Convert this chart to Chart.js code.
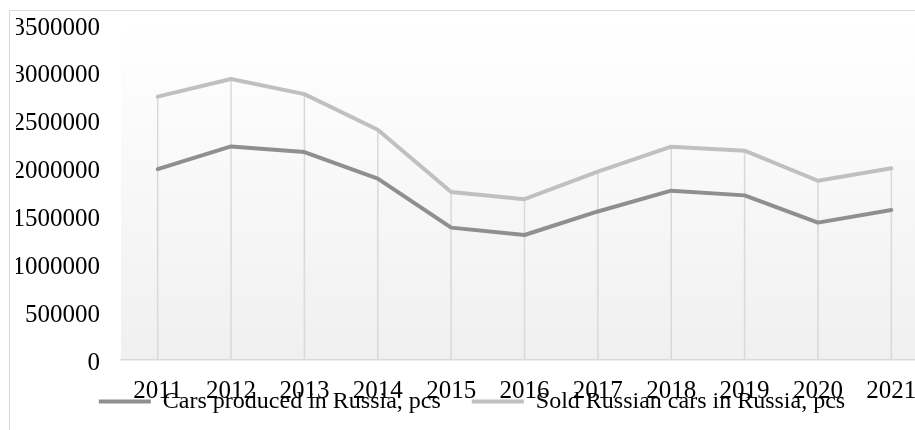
<!DOCTYPE html>
<html>
<head>
<meta charset="utf-8">
<script src="https://cdn.jsdelivr.net/npm/chart.js@4.4.0/dist/chart.umd.min.js"></script>
<style>
  html, body { margin: 0; padding: 0; background: #ffffff; width: 915px; height: 430px; overflow: hidden; }
  #frame { position: absolute; left: 9px; top: 10px; width: 960px; height: 480px; border-left: 1px solid #d9d9d9; border-top: 1px solid #d9d9d9; }
  #wrap { position: absolute; left: 10px; top: 10px; width: 925px; height: 462px; }
</style>
</head>
<body>
<div id="frame"></div>
<div id="wrap"><canvas id="c" width="925" height="462"></canvas></div>
<script>
const years = ['2011','2012','2013','2014','2015','2016','2017','2018','2019','2020','2021'];
const producedLabel = 'Cars produced in Russia, pcs';
const soldLabel = 'Sold Russian cars in Russia, pcs';
const produced = [1995000, 2231000, 2172000, 1895000, 1383000, 1306000, 1552000, 1769000, 1720000, 1435000, 1567000];
const sold = [2752000, 2936000, 2778000, 2405000, 1755000, 1680000, 1967000, 2229000, 2187000, 1873000, 2003000];
const yMin = 0, yMax = 3500000, yStep = 500000;

const serif = '"Liberation Serif", "Times New Roman", serif';

const bgPlugin = {
  id: 'plotBg',
  beforeDraw(chart) {
    const {ctx, chartArea: a} = chart;
    const g = ctx.createLinearGradient(0, a.top, 0, a.bottom);
    g.addColorStop(0, '#ffffff');
    g.addColorStop(1, '#f0f0f0');
    ctx.save();
    ctx.fillStyle = g;
    ctx.fillRect(a.left, a.top, a.right - a.left, a.bottom - a.top);
    ctx.restore();
  }
};

const dropLines = {
  id: 'dropLines',
  beforeDatasetsDraw(chart) {
    const {ctx} = chart;
    const yScale = chart.scales.y;
    const meta = chart.getDatasetMeta(1);
    ctx.save();
    ctx.strokeStyle = '#d9d9d9';
    ctx.lineWidth = 1.5;
    meta.data.forEach(pt => {
      ctx.beginPath();
      ctx.moveTo(pt.x, pt.y);
      ctx.lineTo(pt.x, yScale.getPixelForValue(0));
      ctx.stroke();
    });
    ctx.restore();
  }
};

// legend overlaps the year labels in the reference: lift it after layout
const liftLegend = {
  id: 'liftLegend',
  afterLayout(chart) {
    const l = chart.legend;
    if (!l) return;
    const lo = l.options.labels;
    const target = chart.chartArea.bottom + 41.5 - (lo.padding + lo.font.size / 2);
    const dy = l.top - target;
    l.top -= dy;
    l.bottom -= dy;
  }
};

new Chart(document.getElementById('c'), {
  type: 'line',
  data: {
    labels: years,
    datasets: [
      { label: producedLabel, data: produced, borderColor: '#8f8f8f', backgroundColor: '#8f8f8f',
        borderWidth: 4, pointRadius: 0, tension: 0, borderJoinStyle: 'round', borderCapStyle: 'round' },
      { label: soldLabel, data: sold, borderColor: '#c0c0c0', backgroundColor: '#c0c0c0',
        borderWidth: 4, pointRadius: 0, tension: 0, borderJoinStyle: 'round', borderCapStyle: 'round' }
    ]
  },
  options: {
    responsive: false,
    animation: false,
    devicePixelRatio: 1,
    layout: { padding: { left: 6, right: 7, top: 0, bottom: 0 } },
    plugins: {
      tooltip: { enabled: false },
      legend: {
        position: 'bottom',
        labels: {
          color: '#000000',
          font: { family: serif, size: 24 },
          boxWidth: 52,
          boxHeight: 4,
          padding: 31,
          generateLabels(chart) {
            const items = Chart.defaults.plugins.legend.labels.generateLabels(chart);
            items.forEach(it => { it.fillStyle = it.strokeStyle; it.lineWidth = 0; });
            return items;
          }
        }
      }
    },
    scales: {
      x: {
        offset: true,
        grid: { display: false, drawTicks: false },
        border: { display: true, color: '#d9d9d9', width: 1.5 },
        ticks: { color: '#000000', font: { family: serif, size: 25 }, padding: 16, maxRotation: 0, autoSkip: false },
        afterFit(scale) { scale.height = 47; }
      },
      y: {
        min: yMin,
        max: yMax,
        grid: { display: false, drawTicks: false },
        border: { display: false },
        ticks: {
          stepSize: yStep,
          color: '#000000',
          font: { family: serif, size: 25 },
          padding: 21,
          labelOffset: 3,
          callback: v => String(v)
        },
        afterFit(scale) {
          scale.width = 105;
          scale.paddingTop = 15;
          scale.paddingBottom = 15;
        }
      }
    }
  },
  plugins: [bgPlugin, dropLines, liftLegend]
});
</script>
</body>
</html>
